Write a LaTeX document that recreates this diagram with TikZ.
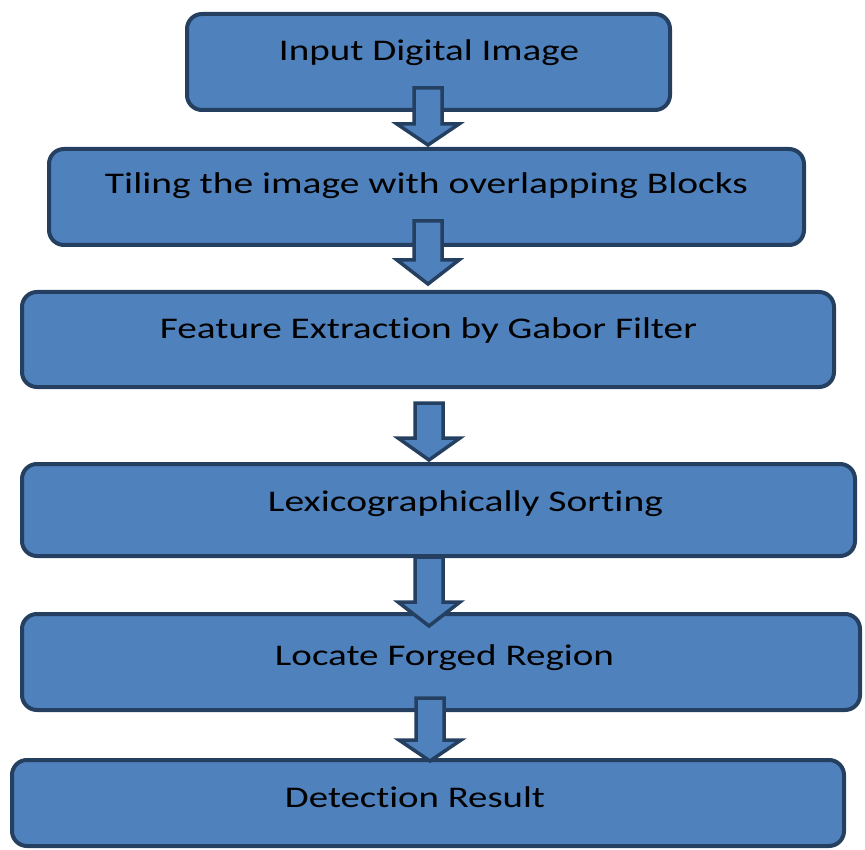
\documentclass[tikz,border=0pt]{standalone}
\usepackage{fontspec}
\setmainfont{Carlito}[Ligatures=NoCommon]
\usepackage{graphicx}
\definecolor{boxfill}{HTML}{4F81BD}
\definecolor{boxline}{HTML}{243F60}
\newcommand{\lbl}[2]{\resizebox{#1pt}{\height}{#2}}
\begin{document}
\begin{tikzpicture}[x=1pt,y=-1pt,
  flowbox/.style={draw=boxline,fill=boxfill,line width=4pt,rounded corners=15pt,inner sep=0pt},
  lbltext/.style={anchor=base,inner sep=0pt,text=black,font=\fontsize{30}{36}\selectfont},
  blockarrow/.style={draw=boxline,fill=boxfill,line width=3.5pt,line join=miter}]
\useasboundingbox (0,0) rectangle (865,850);
% boxes
\node[flowbox,minimum width=483pt,minimum height=96pt] (b1) at (428.5,62) {};
\node[flowbox,minimum width=755pt,minimum height=96pt] (b2) at (426.5,197) {};
\node[flowbox,minimum width=812pt,minimum height=95pt] (b3) at (428,339.5) {};
\node[flowbox,minimum width=833pt,minimum height=92pt] (b4) at (438.5,510) {};
\node[flowbox,minimum width=838pt,minimum height=96pt] (b5) at (441,662) {};
\node[flowbox,minimum width=832pt,minimum height=86pt] (b6) at (428,803) {};
% labels
\node[lbltext] (t1) at (429,61) {\lbl{300}{Input Digital Image}};
\node[lbltext] (t2) at (426.5,194) {\lbl{643}{Tiling the image with overlapping Blocks}};
\node[lbltext] (t3) at (428.5,339) {\lbl{537}{Feature Extraction by Gabor Filter}};
\node[lbltext] (t4) at (465.5,511) {\lbl{395}{Lexicographically Sorting}};
\node[lbltext] (t5) at (444.5,665) {\lbl{339}{Locate Forged Region}};
\node[lbltext] (t6) at (415,807) {\lbl{260}{Detection Result}};
% block arrows: \barrow{x}{top}{base}{tip}
\newcommand{\barrow}[4]{%
  \draw[blockarrow] (#1-14,#2) -- (#1+14,#2) -- (#1+14,#3) -- (#1+31,#3)
    -- (#1,#4) -- (#1-31,#3) -- (#1-14,#3) -- cycle;}
\barrow{428}{88}{124}{145}
\barrow{428}{221}{260}{284}
\barrow{429}{403}{438}{460}
\barrow{429}{557}{602}{626}
\barrow{430}{698}{740}{761}
\end{tikzpicture}
\end{document}
